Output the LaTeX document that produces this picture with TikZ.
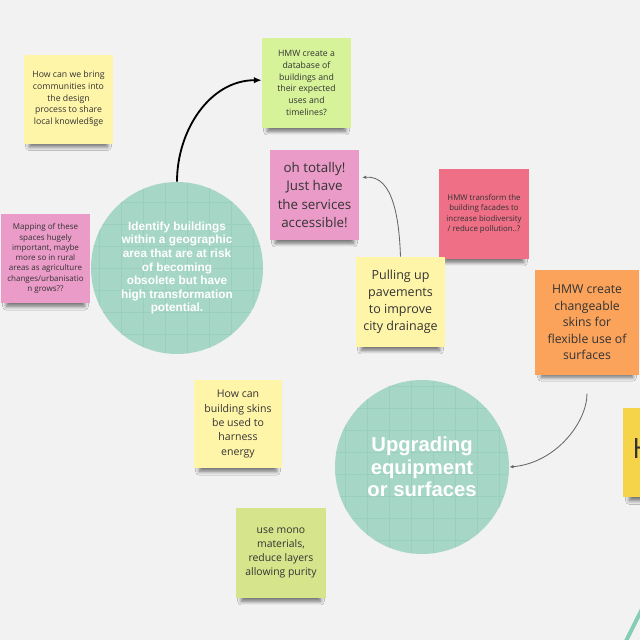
\documentclass[tikz,border=0pt]{standalone}
\usepackage{fontspec}
\setmainfont{Open Sans}
\newfontfamily\bubblefont{Liberation Sans}
\usetikzlibrary{arrows.meta,shadows.blur}
\definecolor{board}{HTML}{F2F2F2}
\definecolor{noteYellow}{HTML}{FFF5A9}
\definecolor{noteLime}{HTML}{D6F39A}
\definecolor{notePink}{HTML}{EA9BC8}
\definecolor{noteRed}{HTML}{EE6F86}
\definecolor{noteOrange}{HTML}{FBA35B}
\definecolor{noteGold}{HTML}{F5D449}
\definecolor{noteOlive}{HTML}{D6E48B}
\definecolor{noteText}{HTML}{333333}
\definecolor{bubbleFill}{HTML}{A6D6C6}
\definecolor{bubbleLine}{HTML}{9ACFBD}
\definecolor{rimLine}{HTML}{86CDB5}
\definecolor{thinLink}{HTML}{666666}
\newlength\pxu
\setlength\pxu{0.025cm}
\tikzset{
  stickynote/.style={rectangle, fill=#1, minimum width=89\pxu, minimum height=89\pxu,
    inner sep=0pt, align=center, text=noteText,
    blur shadow={shadow xshift=0pt, shadow yshift=-7pt, shadow scale=0.88,
      shadow opacity=55, shadow blur radius=3pt, shadow blur steps=8}},
  bubble/.style={circle, fill=bubbleFill, minimum size=#1, inner sep=0pt,
    align=center, text=white,
    path picture={\draw[bubbleLine, line width=0.4pt, step=22\pxu]
      (path picture bounding box.south west) grid (path picture bounding box.north east);}},
  boldlink/.style={-{Latex[length=5.5pt,width=4.5pt]}, line width=1.3pt, black},
  thinlink/.style={-{Latex[length=3pt,width=2.5pt]}, line width=0.6pt, thinLink}
}
\begin{document}
\begin{tikzpicture}[x=1\pxu, y=-1\pxu]
\fill[board] (0,0) rectangle (640,640);
\useasboundingbox (0,0) rectangle (640,640);
\clip (0,0) rectangle (640,640);

\node[stickynote=noteYellow, font=\fontsize{6.2}{8.3}\selectfont] (share) at (68.5,99)
  {How can we bring\\communities into\\the design\\process to share\\local knowled§ge};
\node[stickynote=noteLime, minimum height=90\pxu, font=\fontsize{6.2}{8.3}\selectfont] (database) at (306.5,83)
  {HMW create a\\database of\\buildings and\\their expected\\uses and\\timelines?};
\node[stickynote=notePink, font=\fontsize{5.7}{7.3}\selectfont] (mapping) at (45.5,258.5)
  {Mapping of these\\spaces hugely\\important, maybe\\more so in rural\\areas as agriculture\\changes/urbanisatio\\n grows??};
\node[bubble=172\pxu, font=\bubblefont\bfseries\fontsize{8.4}{9.7}\selectfont] (identify) at (177,268)
  {Identify buildings\\within a geographic\\area that are at risk\\of becoming\\obsolete but have\\high transformation\\potential.};
\node[stickynote=notePink, minimum height=90\pxu, font=\fontsize{9.5}{13}\selectfont] (totally) at (314.5,195)
  {oh totally!\\Just have\\the services\\accessible!};
\node[stickynote=noteRed, minimum width=90\pxu, minimum height=90\pxu, font=\fontsize{5.6}{7.4}\selectfont] (facades) at (484,214)
  {HMW transform the\\building facades to\\increase biodiversity\\/ reduce pollution..?};
\node[stickynote=noteYellow, minimum height=90\pxu, font=\fontsize{8.9}{12}\selectfont] (pavements) at (400.5,302)
  {Pulling up\\pavements\\to improve\\city drainage};
\node[stickynote=noteOrange, minimum width=104\pxu, minimum height=105\pxu, font=\fontsize{8.7}{11.8}\selectfont] (skins) at (587,322.5)
  {HMW create\\changeable\\skins for\\flexible use of\\surfaces};
\node[stickynote=noteGold, minimum width=100\pxu, anchor=north west] (partial) at (623,408) {};
\node[text=noteText, font=\fontsize{19.9}{24}\selectfont, anchor=west, inner sep=0pt] (partialtext) at (632,449) {H};
\node[stickynote=noteYellow, minimum width=88\pxu, minimum height=88\pxu, font=\fontsize{7.5}{10.2}\selectfont] (energy) at (238,424)
  {How can\\building skins\\be used to\\harness\\energy};
\node[stickynote=noteOlive, minimum width=90\pxu, minimum height=90\pxu, font=\fontsize{7.4}{10}\selectfont] (mono) at (281,553)
  {use mono\\materials,\\reduce layers\\allowing purity};
\node[bubble=174\pxu, font=\bubblefont\bfseries\fontsize{14.4}{16}\selectfont] (upgrade) at (422,467)
  {Upgrading\\equipment\\or surfaces};

\draw[boldlink] (identify.north) to[out=90, in=180] ([yshift=2pt]database.west);
\draw[thinlink, shorten >=2pt] (pavements.north) to[out=92, in=5] (totally.21);
\draw[thinlink, shorten <=13pt] (skins.south) to[out=-90, in=5] (upgrade.east);
\draw[rimLine, line width=2.8pt] (645,603) -- (624,645);
\end{tikzpicture}
\end{document}
